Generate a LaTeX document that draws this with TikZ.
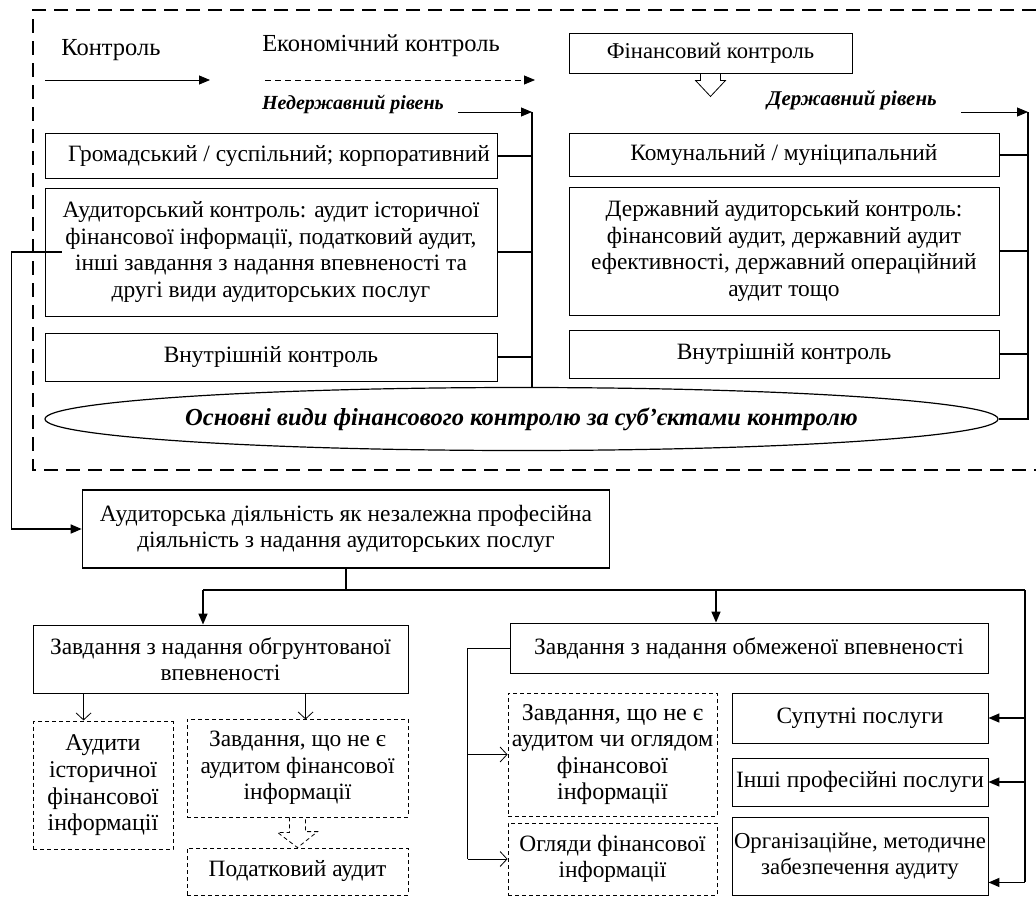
\documentclass[tikz,border=0pt]{standalone}
\usepackage{fontspec}
\setmainfont{Liberation Serif}
\usetikzlibrary{arrows.meta,shapes.geometric,calc}
\begin{document}
\begin{tikzpicture}[x=1pt,y=-1pt,
  every node/.style={font=\fontsize{23.4}{26.5}\selectfont, inner sep=1pt},
  box/.style={draw, line width=0.9pt, align=center},
  dbox/.style={draw, line width=0.8pt, dash pattern=on 4pt off 3pt, align=center},
  conn/.style={line width=1.5pt},
  thinl/.style={line width=0.8pt},
  tri/.style={-{Triangle[length=11pt,width=9pt]}},
  vee/.style={-{Straight Barb[length=7pt,width=15pt]}, line width=0.8pt},
  big/.style={font=\fontsize{24.5}{26.5}\selectfont},
]
\useasboundingbox (0,0) rectangle (1036,897);
% outer dashed frame (open on the right, runs off the page)
\draw[line width=1.6pt, dash pattern=on 14pt off 8pt] (1036,10) -- (33,10) -- (33,470) -- (1036,470);

% top labels
\node[big] (kontr) at (111,50) {Контроль};
\node[big] (ekon) at (381,46) {Економічний контроль};
\coordinate (k1) at (45,80);
\coordinate (k2) at (210,80);
\draw[thinl,tri] (k1) -- (k2);
\coordinate (e1) at (265,80);
\coordinate (e2) at (535,80);
\draw[thinl,tri,dash pattern=on 6pt off 4pt] (e1) -- (e2);

\node[box, minimum width=283pt, minimum height=40pt, font=\fontsize{22.6}{26}\selectfont] (fin) at (710.5,53) {Фінансовий контроль};
\draw[thinl] ($(fin.south)+(-10,0)$) -- ++(0,7) -- ++(-5,0) -- ++(15,16) -- ++(15,-16) -- ++(-5,0) -- ++(0,-7);

\node[font=\fontsize{20}{22}\selectfont\bfseries\itshape] (nd) at (353,104) {Недержавний рівень};
\node[font=\fontsize{21}{22}\selectfont\bfseries\itshape] (dr) at (852,100) {Державний рівень};
\coordinate (lb) at (532,112);
\coordinate (rb) at (1028,112);
\coordinate (ndA) at (458,112);
\coordinate (drA) at (961,112);
\draw[thinl,tri] (ndA) -- (lb);
\draw[thinl,tri] (drA) -- (rb);

% left column
\node[box, minimum width=452pt, minimum height=45pt] (hrom) at (271,156) {\hspace*{16pt}Громадський / суспільний; корпоративний};
\node[box, minimum width=452pt, minimum height=128pt] (audyt) at (271,252) {Аудиторський контроль: аудит історичної\\фінансової інформації, податковий аудит,\\інші завдання з надання впевненості та\\другі види аудиторських послуг};
\node[box, minimum width=452pt, minimum height=48pt] (vn1) at (271,357) {Внутрішній контроль};

% right column
\node[box, minimum width=430pt, minimum height=43pt] (komun) at (784,155) {Комунальний / муніципальний};
\node[box, minimum width=430pt, minimum height=128pt] (daud) at (784,251) {Державний аудиторський контроль:\\фінансовий аудит, державний аудит\\ефективності, державний операційний\\аудит тощо};
\node[box, minimum width=430pt, minimum height=48pt] (vn2) at (784,354) {Внутрішній контроль};

% ellipse
\node[draw, ellipse, line width=1.2pt, minimum width=953pt, minimum height=63pt, inner sep=0pt, font=\fontsize{24.5}{26.5}\selectfont\bfseries\itshape] (ell) at (521.5,419) {Основні види фінансового контролю за суб’єктами контролю};

% buses
\draw[conn] (lb) -- (lb |- ell.north);
\draw[conn] (hrom.east) -- (hrom.east -| lb);
\draw[conn] (audyt.east) -- (audyt.east -| lb);
\draw[conn] (vn1.east) -- (vn1.east -| lb);
\draw[conn] (rb) -- (rb |- ell.east) -- (ell.east);
\draw[conn] (komun.east) -- (komun.east -| rb);
\draw[conn] (daud.east) -- (daud.east -| rb);
\draw[conn] (vn2.east) -- (vn2.east -| rb);

% main box
\node[box, line width=1.6pt, minimum width=527pt, minimum height=78pt] (main) at (346,529) {Аудиторська діяльність як незалежна професійна\\діяльність з надання аудиторських послуг};
\draw[conn,tri] ($(audyt.west)+(17,0)$) -- ++(-50,0) |- (main.west);

% bottom left
\node[box, minimum width=375pt, minimum height=68pt] (ob) at (220.5,659) {Завдання з надання обгрунтованої\\впевненості};
\node[dbox, minimum width=140pt, minimum height=128pt, font=\fontsize{24}{26.7}\selectfont] (ahist) at (103,785.5) {Аудити\\історичної\\фінансової\\інформації};
\node[dbox, minimum width=221pt, minimum height=98pt] (zv1) at (297.5,768) {Завдання, що не є\\аудитом фінансової\\інформації};
\node[dbox, minimum width=221pt, minimum height=47pt] (pod) at (297.5,871.5) {Податковий аудит};
\draw[vee] ($(ob.south west)+(51,0)$) -- ++(0,27);
\draw[vee] ($(ob.south west)+(273,0)$) -- ++(0,26);
\draw[thinl, dash pattern=on 4pt off 3pt] ($(zv1.south)+(-8,0)$) -- ++(0,15) -- ++(-12,0) -- (pod.north) -- ++(20,-16) -- ++(-12,0) -- ++(0,-15);

% bottom right
\node[box, minimum width=478pt, minimum height=50pt] (obm) at (749,648) {Завдання з надання обмеженої впевненості};
\node[dbox, minimum width=209pt, minimum height=123pt, inner sep=0pt, font=\fontsize{24}{26.5}\selectfont] (zv2) at (612.5,754.5) {Завдання, що не є\\аудитом чи оглядом\\фінансової\\інформації};
\node[dbox, minimum width=209pt, minimum height=72pt] (ohl) at (612.5,859) {Огляди фінансової\\інформації};
\node[box, minimum width=256pt, minimum height=50pt] (sup) at (860,718) {Супутні послуги};
\node[box, minimum width=256pt, minimum height=48pt] (insh) at (860,782) {Інші професійні послуги};
\node[box, minimum width=256pt, minimum height=78pt, inner sep=0pt, font=\fontsize{22.8}{26.5}\selectfont] (org) at (860,856) {Організаційне, методичне\\забезпечення аудиту};

% branch from main
\draw[conn] (main.south) -- ++(0,22) coordinate (bm);
\coordinate (bl) at (203,590);
\coordinate (bc) at (716,590);
\coordinate (br) at (1025,590);
\draw[conn] (bl) -- (br);
\draw[conn,tri] (bl) -- (bl |- ob.north);
\draw[conn,tri] (bc) -- (bc |- obm.north);
\coordinate (oe) at ($(org.south east)+(0,-13)$);
\draw[conn] (br) -- (br |- oe);
\draw[conn,tri] (br |- sup.east) -- (sup.east);
\draw[conn,tri] (br |- insh.east) -- (insh.east);
\draw[conn,tri] (br |- oe) -- (oe);

% limited assurance links
\draw[thinl] (obm.west) -- ++(-42,0) coordinate (ol) -- (ol |- ohl.west);
\draw[vee] (ol |- zv2.west) -- (zv2.west);
\draw[vee] (ol |- ohl.west) -- (ohl.west);
\end{tikzpicture}
\end{document}
